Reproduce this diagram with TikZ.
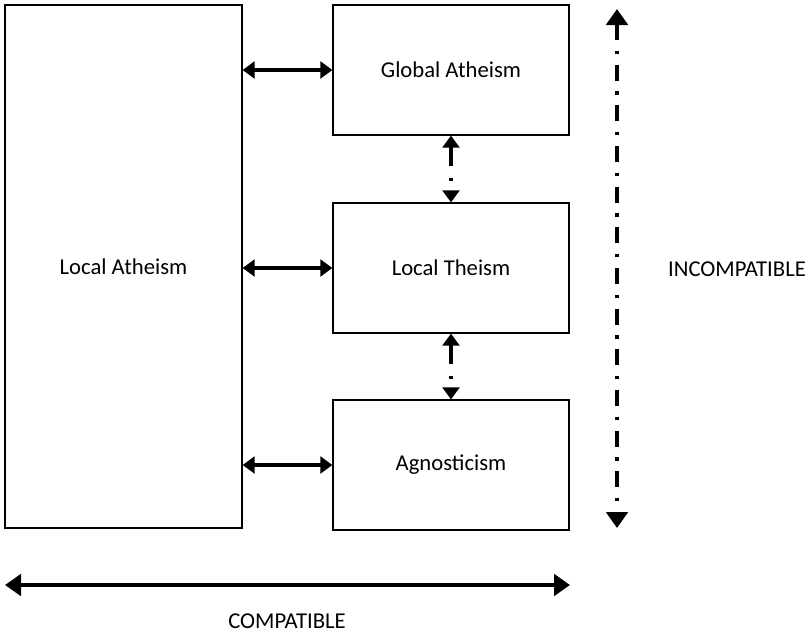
\documentclass[tikz,border=0pt]{standalone}
\usepackage{fontspec}
\setmainfont{Carlito}
\usepackage{tikz}
\usetikzlibrary{arrows.meta,positioning,calc}
\tikzset{
  block/.style={draw=black, fill=white, line width=0.9pt, align=center,
                inner sep=0pt, font=\fontsize{17}{20}\selectfont},
  sidebox/.style={block, minimum width=177pt, minimum height=97.5pt},
  arrow/.style={{Triangle[length=9pt,width=12.5pt]}-{Triangle[length=9pt,width=12.5pt]},
                line width=3pt, draw=black},
  dotarrow/.style={arrow, dash pattern=on 14pt off 9pt on 2.5pt off 9pt},
  bigarrow/.style={{Triangle[length=12pt,width=16pt]}-{Triangle[length=12pt,width=16pt]},
                   line width=3.2pt, draw=black},
  bigdotarrow/.style={bigarrow, dash pattern=on 12pt off 8pt on 2.5pt off 8pt},
  axislabel/.style={font=\fontsize{17}{20}\selectfont}
}
\begin{document}
\begin{tikzpicture}[x=0.75pt,y=-0.75pt]
  \useasboundingbox (0,0) rectangle (807,632);

  % left column
  \node[block, minimum width=177.75pt, minimum height=392.25pt] (local) at (123.5,266.5) {Local Atheism};

  % right column
  \node[sidebox] (global) at (451,70)  {Global Atheism};
  \node[sidebox] (theism) at (451,268) {Local Theism};
  \node[sidebox] (agnos)  at (451,465) {Agnosticism};

  % compatible pairs
  \foreach \n in {global,theism,agnos}
    {\draw[arrow] (\n.west -| local.east) -- (\n.west);}

  % incompatible pairs
  \draw[dotarrow] (global.south) -- (theism.north);
  \draw[dotarrow] (theism.south) -- (agnos.north);

  % axes
  \coordinate (incTop) at (617,9);
  \coordinate (incBot) at (617,528);
  \draw[bigdotarrow] (incTop) -- (incBot);
  \node[axislabel] (inc) at (737,269) {INCOMPATIBLE};

  \coordinate (comL) at (5,585);
  \coordinate (comR) at (570,585);
  \draw[bigarrow] (comL) -- (comR);
  \node[axislabel] (com) at (287,621) {COMPATIBLE};
\end{tikzpicture}
\end{document}
